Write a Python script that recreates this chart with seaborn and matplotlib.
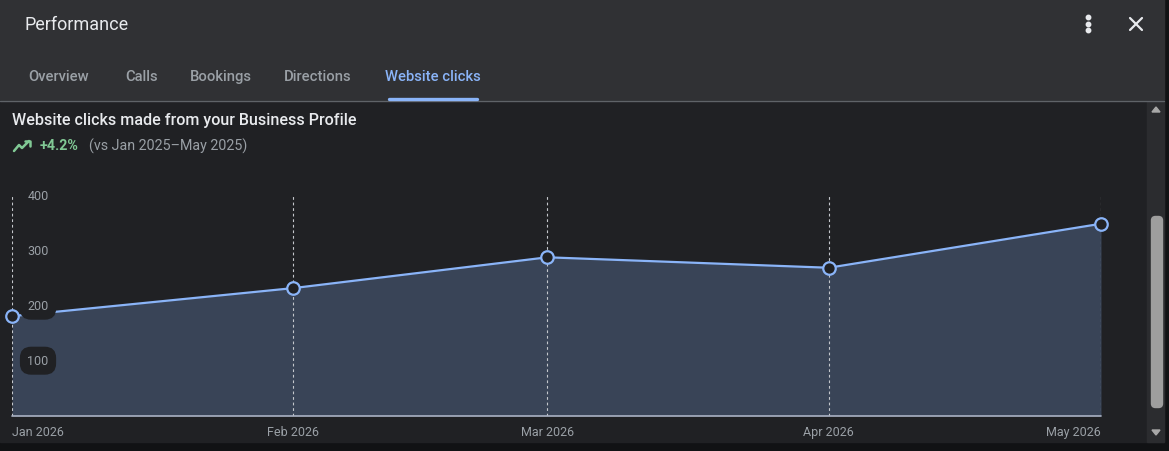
import numpy as np
import pandas as pd
import seaborn as sns
import matplotlib
matplotlib.use("Agg")
from matplotlib import pyplot as plt
from matplotlib.patches import Rectangle, FancyBboxPatch, Polygon

# data
months = ["2026-01-01", "2026-02-01", "2026-03-01", "2026-04-01", "2026-05-01"]
month_labels = ["Jan 2026", "Feb 2026", "Mar 2026", "Apr 2026", "May 2026"]
clicks = [181, 232, 288, 269, 349]
y_ticks = [100, 200, 300, 400]
tabs = ["Overview", "Calls", "Bookings", "Directions", "Website clicks"]
tab_x = [28, 125, 190, 284, 385]

sns.set_theme(style="dark")
plt.rcParams["font.family"] = ["Roboto", "DejaVu Sans"]

HEADER = "#303134"
PANEL = "#202124"
OUTER = "#111214"
GREY = "#9aa0a6"
BLUE = "#8ab4f8"
FILL = "#394457"
WHITE = "#e8eaed"

W, H = 1169, 452
fig = plt.figure(figsize=(W / 100, H / 100), dpi=100)
fig.patch.set_facecolor(OUTER)

# background / chrome layer in pixel coordinates
bg = fig.add_axes([0, 0, 1, 1], zorder=0)
bg.set_xlim(0, W)
bg.set_ylim(H, 0)
bg.axis("off")
bg.add_patch(Rectangle((0, 0), 1164, 101, color=HEADER))
bg.add_patch(Rectangle((0, 102), 1164, 341, color=PANEL))
bg.plot([0, 1164], [101.5, 101.5], color="#5f6368", lw=1)

bg.text(24, 25, "Performance", color=WHITE, fontsize=13, va="center")
for name, x in zip(tabs, tab_x):
    active = name == "Website clicks"
    bg.text(x, 77, name, color=BLUE if active else GREY, fontsize=10.6,
            fontweight="medium", va="center")
bg.plot([389, 477], [99.5, 99.5], color=BLUE, lw=2.4, solid_capstyle="round")

# kebab menu and close icon
for yy in (18, 25, 31):
    bg.plot(1088, yy, "o", color=WHITE, ms=3.2)
bg.plot([1130, 1142], [19, 31], color=WHITE, lw=1.6)
bg.plot([1130, 1142], [31, 19], color=WHITE, lw=1.6)

# scrollbar
bg.add_patch(Rectangle((1147, 102), 17, 341, color="#2b2c2f"))
bg.add_patch(FancyBboxPatch((1153, 219), 8, 188, boxstyle="round,pad=1.5,rounding_size=4",
                            color="#9e9e9e"))
bg.add_patch(Polygon([[1152, 113], [1160, 113], [1156, 108]], color="#a8a8a8"))
bg.add_patch(Polygon([[1152, 431], [1160, 431], [1156, 436]], color="#a8a8a8"))

# chart heading
bg.text(12, 121, "Website clicks made from your Business Profile", color=WHITE,
        fontsize=11.6, fontweight="medium", va="center")
bg.plot([14, 19, 22, 29], [152, 146, 149, 142], color="#81c995", lw=1.8)
bg.plot([25, 29.5, 29.5], [142, 142, 146.5], color="#81c995", lw=1.8)
bg.text(40, 146, "+4.2%", color="#81c995", fontsize=10.3, fontweight="bold", va="center")
bg.text(89, 146, "(vs Jan 2025\u2013May 2025)", color=GREY, fontsize=10.3, va="center")

# chart
ax = fig.add_axes([12 / W, (H - 416.7) / H, (1101 - 12) / W, 220 / H], zorder=1)
ax.set_facecolor("none")
df = pd.DataFrame({"month": pd.to_datetime(months), "clicks": clicks})

ax.fill_between(df["month"], 0, df["clicks"], color=FILL, lw=0, zorder=1)
ax.vlines(df["month"], 0, 400, colors="#c4c7cc", linestyles=(0, (2.5, 2.5)), lw=0.8, zorder=2)
sns.lineplot(data=df, x="month", y="clicks", ax=ax, color=BLUE, lw=1.6,
             marker="o", markersize=9, markerfacecolor=PANEL, markeredgecolor=BLUE,
             markeredgewidth=1.6, clip_on=False, zorder=4)
ax.axhline(0, color="#aab2c4", lw=1.2, zorder=3, clip_on=False)

ax.set_xlim(df["month"].iloc[0], df["month"].iloc[-1])
ax.set_ylim(0, 400)
ax.set_xlabel("")
ax.set_ylabel("")
ax.set_yticks([])
ax.set_xticks(df["month"])
ax.set_xticklabels(month_labels, color=GREY, fontsize=9)
ax.tick_params(axis="x", length=0, pad=7)
labels = ax.get_xticklabels()
labels[0].set_ha("left")
labels[-1].set_ha("right")
for s in ax.spines.values():
    s.set_visible(False)
ax.grid(False)

for v in y_ticks:
    ax.annotate(str(v), xy=(0, v), xycoords=("axes fraction", "data"),
                xytext=(26, 0), textcoords="offset pixels", color=GREY, fontsize=9,
                ha="center", va="center", zorder=5,
                bbox=dict(boxstyle="round,pad=0.6,rounding_size=0.9", fc=PANEL, ec="none"))

fig.savefig("out.png", dpi=100, facecolor=fig.get_facecolor())
